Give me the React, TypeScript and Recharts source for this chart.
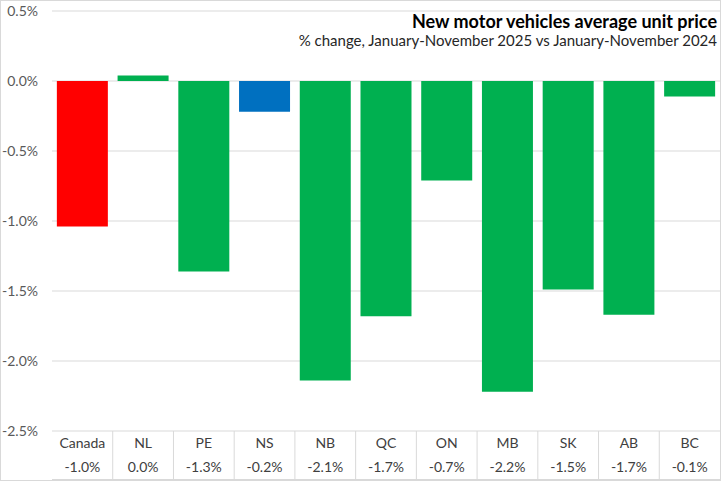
import React from "react";
import { BarChart, Bar, XAxis, YAxis, CartesianGrid, Cell } from "recharts";

const categories = ["Canada", "NL", "PE", "NS", "NB", "QC", "ON", "MB", "SK", "AB", "BC"];
const values = [-1.04, 0.04, -1.36, -0.22, -2.14, -1.68, -0.71, -2.22, -1.49, -1.67, -0.11];
const valueLabels = ["-1.0%", "0.0%", "-1.3%", "-0.2%", "-2.1%", "-1.7%", "-0.7%", "-2.2%", "-1.5%", "-1.7%", "-0.1%"];
const barColors = ["#FF0000", "#00B050", "#00B050", "#0070C0", "#00B050", "#00B050", "#00B050", "#00B050", "#00B050", "#00B050", "#00B050"];
const yTicks = [0.5, 0, -0.5, -1, -1.5, -2, -2.5];

const data = categories.map((c, i) => ({ name: c, value: values[i], label: valueLabels[i], color: barColors[i] }));

const W = 721;
const H = 481;
const YW = 52;
const MR = 1;
const BAND = (W - YW - MR) / categories.length;
const FONT = "Lato, 'Open Sans', sans-serif";

const XTick = (props: any) => {
  const { x, payload, index } = props;
  const d = data[index];
  return (
    <g>
      <text x={x} y={448} textAnchor="middle" fontSize={14} fill="#404040" fontFamily={FONT}>
        {payload.value}
      </text>
      <text x={x} y={472} textAnchor="middle" fontSize={14} fill="#404040" fontFamily={FONT}>
        {d ? d.label : ""}
      </text>
      {index < categories.length - 1 ? (
        <line x1={x + BAND / 2} x2={x + BAND / 2} y1={431} y2={479} stroke="#d9d9d9" strokeWidth={1} />
      ) : null}
    </g>
  );
};

export default function App() {
  return (
    <div style={{ position: "absolute", left: 0, top: 0, width: W, height: H, background: "#fff", fontFamily: FONT }}>
      <BarChart width={W} height={H} data={data} margin={{ top: 11, right: MR, left: 0, bottom: 0 }} barCategoryGap="8%">
        <CartesianGrid vertical={false} stroke="#d9d9d9" />
        <YAxis
          width={YW}
          domain={[-2.5, 0.5]}
          ticks={yTicks}
          axisLine={false}
          tickLine={false}
          tickSize={0}
          tickMargin={14}
          interval={0}
          tickFormatter={(v: number) => `${v.toFixed(1)}%`}
          tick={{ fontSize: 14, fill: "#595959", fontFamily: FONT }}
        />
        <XAxis dataKey="name" height={50} axisLine={false} tickLine={false} interval={0} tick={<XTick />} />
        <Bar dataKey="value" isAnimationActive={false}>
          {data.map((d, i) => (
            <Cell key={i} fill={d.color} />
          ))}
        </Bar>
      </BarChart>
      <svg width={W} height={H} style={{ position: "absolute", left: 0, top: 0, pointerEvents: "none" }}>
        <rect x={0.5} y={0.5} width={W - 1} height={H - 1} fill="none" stroke="#d9d9d9" />
        <line x1={YW} x2={W} y1={479.5} y2={479.5} stroke="#d9d9d9" />
      </svg>
      <div style={{ position: "absolute", right: 4, top: 12, textAlign: "right", lineHeight: "19px" }}>
        <div style={{ fontWeight: 700, fontSize: 18, color: "#000" }}>New motor vehicles average unit price</div>
        <div style={{ fontSize: 15, color: "#262626" }}>% change, January-November 2025 vs January-November 2024</div>
      </div>
    </div>
  );
}
